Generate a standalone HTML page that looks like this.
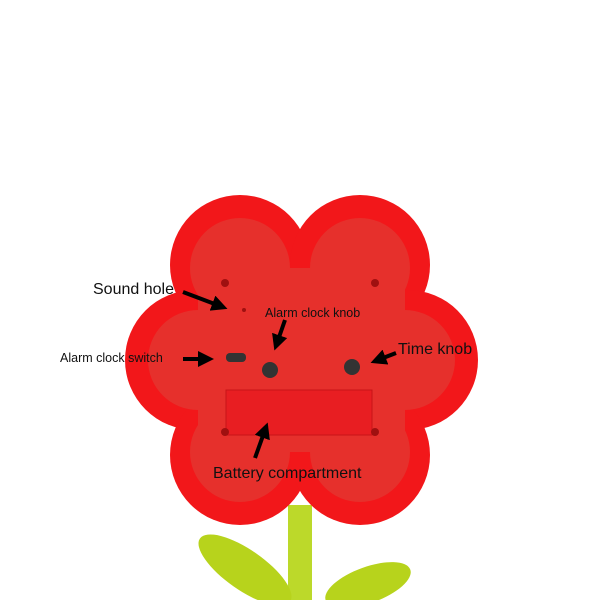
<!DOCTYPE html><html><head><style>body{margin:0;background:#fff}svg{display:block}text{font-family:"Liberation Sans",sans-serif;fill:#111}</style></head><body>
<svg width="600" height="600" viewBox="0 0 600 600">
<defs><marker id="a" markerWidth="4" markerHeight="4" refX="2" refY="2" orient="auto"><path d="M0,0 L4,2 L0,4z" fill="#000"/></marker></defs>
<rect x="288" y="505" width="24" height="95" fill="#bcd92a"/>
<ellipse cx="245" cy="570" rx="55" ry="20" transform="rotate(35 245 570)" fill="#b7d31c"/>
<ellipse cx="368" cy="585" rx="45" ry="18" transform="rotate(-20 368 585)" fill="#b7d31c"/>
<g fill="#f2171a">
<circle cx="240" cy="265" r="70"/><circle cx="360" cy="265" r="70"/>
<circle cx="195" cy="360" r="70"/><circle cx="408" cy="360" r="70"/>
<circle cx="240" cy="455" r="70"/><circle cx="360" cy="455" r="70"/>
<rect x="195" y="265" width="213" height="190"/>
</g>
<g fill="#e6302c">
<circle cx="240" cy="268" r="50"/><circle cx="360" cy="268" r="50"/>
<circle cx="198" cy="360" r="50"/><circle cx="405" cy="360" r="50"/>
<circle cx="240" cy="452" r="50"/><circle cx="360" cy="452" r="50"/>
<rect x="198" y="268" width="207" height="184"/>
</g>
<rect x="226" y="390" width="146" height="45" fill="#e81e22" stroke="#c81418"/>
<circle cx="270" cy="370" r="8" fill="#333"/><circle cx="352" cy="367" r="8" fill="#333"/>
<rect x="226" y="353" width="20" height="9" rx="4" fill="#333"/>
<g fill="#a01010"><circle cx="225" cy="283" r="4"/><circle cx="375" cy="283" r="4"/><circle cx="225" cy="432" r="4"/><circle cx="375" cy="432" r="4"/><circle cx="244" cy="310" r="2"/></g>
<g stroke="#000" stroke-width="4" marker-end="url(#a)">
<line x1="183" y1="292" x2="220" y2="306"/>
<line x1="183" y1="359" x2="206" y2="359"/>
<line x1="285" y1="320" x2="277" y2="343"/>
<line x1="396" y1="353" x2="378" y2="360"/>
<line x1="255" y1="458" x2="265" y2="430"/>
</g>
<text x="93" y="294" font-size="16">Sound hole</text>
<text x="265" y="317" font-size="12.5">Alarm clock knob</text>
<text x="60" y="362" font-size="12.5">Alarm clock switch</text>
<text x="398" y="354" font-size="16">Time knob</text>
<text x="213" y="478" font-size="16">Battery compartment</text>
</svg></body></html>
